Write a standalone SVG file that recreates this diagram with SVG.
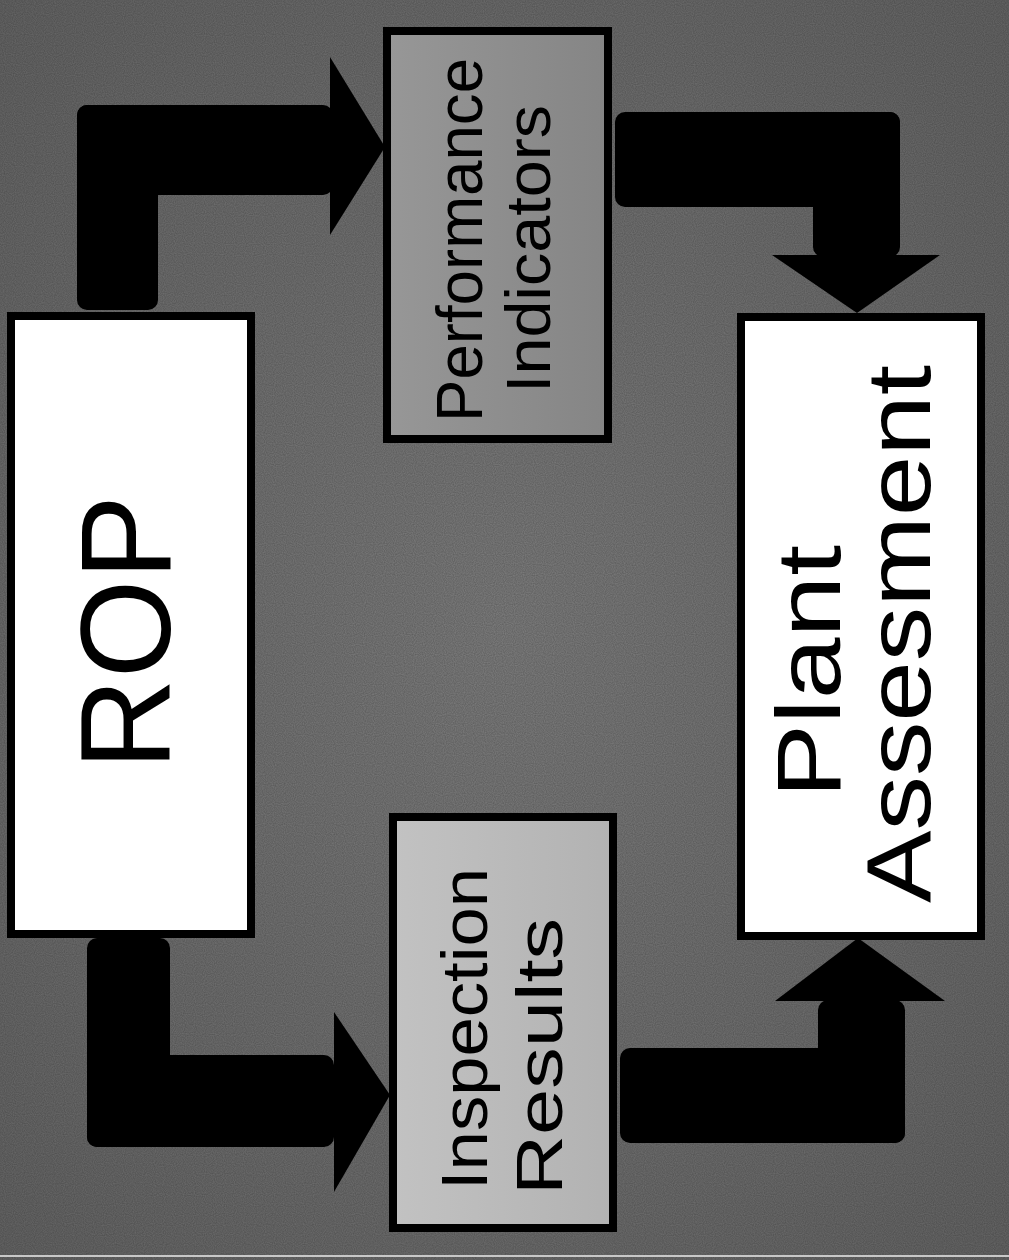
<svg xmlns="http://www.w3.org/2000/svg" width="1009" height="1260" viewBox="0 0 1009 1260">
  <style>
    .box { stroke: #000; stroke-width: 8; }
    .arrow { fill: #000; }
    .lbl { font-family: "Liberation Sans", Arial, sans-serif; fill: #000; }
  </style>
  <defs>
    <radialGradient id="bg" cx="50%" cy="50%" r="70%">
      <stop offset="0" stop-color="#7a7a7a"/>
      <stop offset="1" stop-color="#626262"/>
    </radialGradient>
    <linearGradient id="perfFill" x1="0" y1="0" x2="1" y2="0">
      <stop offset="0" stop-color="#979797"/>
      <stop offset="1" stop-color="#858585"/>
    </linearGradient>
    <linearGradient id="inspFill" x1="0" y1="0" x2="1" y2="0">
      <stop offset="0" stop-color="#c2c2c2"/>
      <stop offset="1" stop-color="#b2b2b2"/>
    </linearGradient>
    <filter id="noise" x="0" y="0" width="100%" height="100%">
      <feTurbulence type="fractalNoise" baseFrequency="0.9" numOctaves="1" seed="3" result="t"/>
      <feColorMatrix in="t" type="matrix" values="0 0 0 0 0  0 0 0 0 0  0 0 0 0 0  0 0 0 0.9 -0.2"/>
    </filter>
  </defs>

  <rect x="0" y="0" width="1009" height="1260" fill="url(#bg)"/>
  <rect x="0" y="0" width="1009" height="1260" filter="url(#noise)" opacity="0.35"/>
  <rect x="0" y="1255" width="1009" height="2" fill="#c8c8c8"/>

  <g id="connectors">
    <g id="c-rop-perf">
      <rect class="arrow" x="77" y="105" width="81" height="205" rx="10"/>
      <rect class="arrow" x="77" y="105" width="256" height="90" rx="10"/>
      <polygon class="arrow" points="330,57 385,147 330,235"/>
    </g>
    <g id="c-perf-plant">
      <rect class="arrow" x="615" y="112" width="285" height="95" rx="10"/>
      <rect class="arrow" x="813" y="112" width="87" height="145" rx="10"/>
      <polygon class="arrow" points="772,255 940,255 857,313"/>
    </g>
    <g id="c-rop-insp">
      <rect class="arrow" x="87" y="938" width="83" height="209" rx="10"/>
      <rect class="arrow" x="87" y="1055" width="247" height="92" rx="10"/>
      <polygon class="arrow" points="334,1012 390,1095 334,1192"/>
    </g>
    <g id="c-insp-plant">
      <rect class="arrow" x="620" y="1048" width="285" height="95" rx="10"/>
      <rect class="arrow" x="818" y="1000" width="87" height="143" rx="10"/>
      <polygon class="arrow" points="775,1001 945,1001 858,938"/>
    </g>
  </g>

  <g id="rop">
    <rect class="box" x="11" y="316" width="240" height="618" fill="#ffffff"/>
    <text class="lbl" transform="translate(170,770) rotate(-90)" font-size="128" textLength="275" lengthAdjust="spacingAndGlyphs">ROP</text>
  </g>

  <g id="performance-indicators">
    <rect class="box" x="387" y="31" width="221" height="408" fill="url(#perfFill)"/>
    <text class="lbl" transform="translate(482,422) rotate(-90)" font-size="65" textLength="364" lengthAdjust="spacingAndGlyphs">Performance</text>
    <text class="lbl" transform="translate(550,393) rotate(-90)" font-size="63" textLength="288" lengthAdjust="spacingAndGlyphs">Indicators</text>
  </g>

  <g id="inspection-results">
    <rect class="box" x="393" y="817" width="220" height="411" fill="url(#inspFill)"/>
    <text class="lbl" transform="translate(487,1190) rotate(-90)" font-size="65" textLength="322" lengthAdjust="spacingAndGlyphs">Inspection</text>
    <text class="lbl" transform="translate(562,1195) rotate(-90)" font-size="65" textLength="277" lengthAdjust="spacingAndGlyphs">Results</text>
  </g>

  <g id="plant-assessment">
    <rect class="box" x="741" y="317" width="240" height="619" fill="#ffffff"/>
    <text class="lbl" transform="translate(840,798) rotate(-90)" font-size="90" textLength="253" lengthAdjust="spacingAndGlyphs">Plant</text>
    <text class="lbl" transform="translate(930,903) rotate(-90)" font-size="90" textLength="538" lengthAdjust="spacingAndGlyphs">Assesment</text>
  </g>
</svg>
